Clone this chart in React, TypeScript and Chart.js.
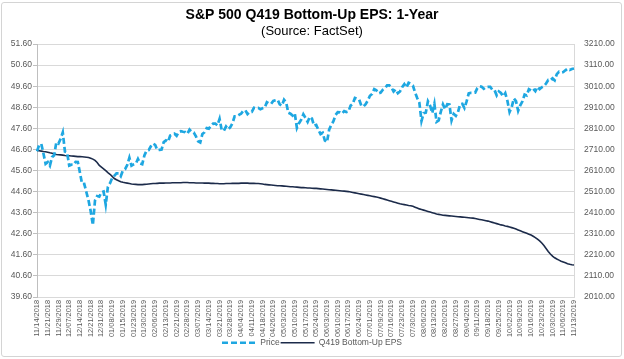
import React, { useEffect, useRef } from "react";
import { Chart, registerables } from "chart.js";

Chart.register(...registerables);

const chartTitle = "S&P 500 Q419 Bottom-Up EPS: 1-Year";
const chartSubtitle = "(Source: FactSet)";
const seriesNames = ["Price", "Q419 Bottom-Up EPS"];

// One tick label every 5 trading days
const tickLabels = [
  "11/14/2018", "11/21/2018", "11/29/2018", "12/07/2018", "12/14/2018", "12/21/2018", "12/31/2018",
  "01/08/2019", "01/15/2019", "01/23/2019", "01/30/2019",
  "02/06/2019", "02/13/2019", "02/21/2019", "02/28/2019",
  "03/07/2019", "03/14/2019", "03/21/2019", "03/28/2019",
  "04/04/2019", "04/11/2019", "04/18/2019", "04/26/2019",
  "05/03/2019", "05/10/2019", "05/17/2019", "05/24/2019",
  "06/03/2019", "06/10/2019", "06/17/2019", "06/24/2019",
  "07/01/2019", "07/09/2019", "07/16/2019", "07/23/2019", "07/30/2019",
  "08/06/2019", "08/13/2019", "08/20/2019", "08/27/2019",
  "09/04/2019", "09/11/2019", "09/18/2019", "09/25/2019",
  "10/02/2019", "10/09/2019", "10/16/2019", "10/23/2019", "10/30/2019",
  "11/06/2019", "11/13/2019",
];

// Daily S&P 500 price (right axis)
const priceValues = [
  2701.6, 2730.2, 2736.3, 2690.7, 2641.9,
  2649.9, 2632.6, 2673.5, 2682.2, 2743.8,
  2737.8, 2760.2, 2790.4, 2700.1, 2695.9,
  2633.1, 2637.7, 2636.8, 2651.1, 2650.5,
  2599.0, 2545.9, 2546.2, 2507.0, 2467.4,
  2416.6, 2351.1, 2467.7, 2488.8, 2485.7,
  2506.9, 2510.0, 2447.9, 2531.9, 2549.7,
  2574.4, 2585.0, 2596.6, 2596.3, 2582.6,
  2610.3, 2616.1, 2636.0, 2670.7, 2632.9,
  2638.7, 2642.3, 2664.8, 2643.9, 2640.0,
  2681.1, 2704.1, 2706.5, 2724.9, 2737.7,
  2731.6, 2706.1, 2707.9, 2709.8, 2744.7,
  2753.0, 2745.7, 2775.6, 2779.8, 2784.7,
  2774.9, 2792.7, 2796.1, 2793.9, 2792.4,
  2784.5, 2803.7, 2792.8, 2789.7, 2771.5,
  2748.9, 2743.1, 2783.3, 2791.5, 2810.9,
  2808.5, 2822.5, 2832.9, 2832.6, 2824.2,
  2854.9, 2800.7, 2798.4, 2818.5, 2805.4,
  2815.4, 2834.4, 2867.2, 2867.2, 2873.4,
  2879.4, 2892.7, 2895.8, 2878.2, 2888.2,
  2888.3, 2907.4, 2905.6, 2907.1, 2900.5,
  2905.0, 2908.0, 2933.7, 2927.3, 2926.2,
  2939.9, 2943.0, 2945.8, 2923.7, 2917.5,
  2945.6, 2932.5, 2884.1, 2879.4, 2870.7,
  2881.4, 2811.9, 2834.4, 2851.0, 2876.3,
  2859.5, 2840.2, 2864.4, 2856.3, 2822.2,
  2826.1, 2802.4, 2783.0, 2788.9, 2752.1,
  2744.5, 2803.3, 2826.2, 2843.5, 2873.3,
  2886.7, 2885.7, 2879.8, 2891.6, 2887.0,
  2889.7, 2917.8, 2926.5, 2954.2, 2950.5,
  2945.4, 2917.4, 2913.8, 2924.9, 2941.8,
  2964.3, 2973.0, 2995.8, 2990.4, 2976.0,
  2979.6, 2993.1, 2999.9, 3013.8, 3014.3,
  3004.0, 2984.4, 2995.1, 2976.6, 2985.0,
  3005.5, 3019.6, 3003.7, 3025.9, 3021.0,
  3013.2, 2980.4, 2953.6, 2932.1, 2844.7,
  2881.8, 2884.0, 2938.1, 2918.7, 2882.7,
  2926.3, 2840.6, 2847.6, 2888.7, 2923.7,
  2900.5, 2924.4, 2923.0, 2847.1, 2878.4,
  2869.2, 2887.9, 2924.6, 2926.5, 2906.3,
  2937.8, 2976.0, 2978.7, 2978.4, 2979.4,
  3000.9, 3009.6, 3007.4, 2998.0, 3005.7,
  3006.7, 3006.8, 2992.1, 2991.8, 2966.6,
  2984.9, 2977.6, 2961.8, 2976.7, 2940.3,
  2887.6, 2910.6, 2952.0, 2938.8, 2893.1,
  2919.4, 2938.1, 2970.3, 2966.2, 2995.7,
  2989.7, 2998.0, 2986.2, 3006.7, 2996.0,
  3004.5, 3010.3, 3022.6, 3039.4, 3036.9,
  3046.8, 3037.6, 3066.9, 3078.3, 3074.6,
  3076.8, 3085.2, 3093.1, 3087.0, 3091.8,
  3094.0,
];

// Daily Q4 2019 bottom-up EPS estimate (left axis)
const epsValues = [
  46.55, 46.54, 46.52, 46.50, 46.49,
  46.47, 46.44, 46.42, 46.38, 46.36,
  46.35, 46.34, 46.33, 46.31, 46.30,
  46.30, 46.29, 46.28, 46.27, 46.26,
  46.26, 46.25, 46.24, 46.23, 46.22,
  46.18, 46.14, 46.08, 45.98, 45.84,
  45.76, 45.68, 45.59, 45.50, 45.42,
  45.32, 45.22, 45.16, 45.11, 45.07,
  45.04, 45.02, 45.00, 44.98, 44.96,
  44.95, 44.94, 44.93, 44.93, 44.93,
  44.94, 44.95, 44.96, 44.97, 44.98,
  44.98, 44.99, 45.00, 45.00, 45.00,
  45.01, 45.01, 45.01, 45.02, 45.02,
  45.02, 45.02, 45.02, 45.03, 45.03,
  45.03, 45.02, 45.02, 45.02, 45.01,
  45.01, 45.01, 45.01, 45.00, 45.00,
  45.00, 44.99, 44.99, 44.98, 44.98,
  44.97, 44.97, 44.97, 44.98, 44.98,
  44.98, 44.99, 44.99, 44.99, 44.99,
  45.00, 45.00, 45.00, 45.00, 44.99,
  44.99, 44.99, 44.98, 44.98, 44.97,
  44.96, 44.94, 44.93, 44.92, 44.91,
  44.90, 44.89, 44.88, 44.88, 44.87,
  44.86, 44.85, 44.84, 44.83, 44.83,
  44.82, 44.81, 44.80, 44.79, 44.79,
  44.78, 44.77, 44.77, 44.76, 44.75,
  44.75, 44.74, 44.73, 44.72, 44.71,
  44.70, 44.69, 44.68, 44.67, 44.66,
  44.65, 44.64, 44.63, 44.62, 44.61,
  44.60, 44.58, 44.56, 44.54, 44.52,
  44.50, 44.48, 44.46, 44.44, 44.42,
  44.40, 44.38, 44.36, 44.34, 44.32,
  44.29, 44.26, 44.23, 44.20, 44.17,
  44.14, 44.11, 44.08, 44.05, 44.02,
  44.00, 43.98, 43.96, 43.94, 43.93,
  43.90, 43.86, 43.82, 43.78, 43.75,
  43.72, 43.69, 43.66, 43.63, 43.60,
  43.57, 43.54, 43.52, 43.50, 43.48,
  43.47, 43.46, 43.45, 43.44, 43.43,
  43.42, 43.41, 43.40, 43.39, 43.38,
  43.37, 43.36, 43.35, 43.34, 43.32,
  43.30, 43.28, 43.26, 43.24, 43.22,
  43.20, 43.17, 43.14, 43.11, 43.08,
  43.05, 43.02, 43.00, 42.97, 42.95,
  42.92, 42.89, 42.86, 42.82, 42.78,
  42.74, 42.70, 42.66, 42.62, 42.58,
  42.54, 42.48, 42.42, 42.34, 42.26,
  42.16, 42.04, 41.90, 41.76, 41.64,
  41.54, 41.46, 41.40, 41.35, 41.30,
  41.26, 41.22, 41.18, 41.15, 41.13,
  41.12,
];

const epsAxis = { min: 39.6, max: 51.6, step: 1 };
const priceAxis = { min: 2010, max: 3210, step: 100 };

const FONT = "'Liberation Sans', Arial, sans-serif";
const PRICE_COLOR = "#1EA7E1";
const EPS_COLOR = "#1C2B4A";
const TICK_COLOR = "#595959";
const GRID_COLOR = "#D9D9D9";

export default function App() {
  const canvasRef = useRef<HTMLCanvasElement | null>(null);

  useEffect(() => {
    const canvas = canvasRef.current;
    if (!canvas) return;
    const labels = priceValues.map((_, i) => (i % 5 === 0 ? tickLabels[i / 5] : ""));

    const chart = new Chart(canvas, {
      type: "line",
      data: {
        labels,
        datasets: [
          {
            label: seriesNames[0],
            data: priceValues,
            yAxisID: "y1",
            borderColor: PRICE_COLOR,
            backgroundColor: PRICE_COLOR,
            borderWidth: 2.7,
            borderDash: [6, 3],
            pointRadius: 0,
            pointStyle: "line",
            tension: 0,
          },
          {
            label: seriesNames[1],
            data: epsValues,
            yAxisID: "y",
            borderColor: EPS_COLOR,
            backgroundColor: EPS_COLOR,
            borderWidth: 1.6,
            pointRadius: 0,
            pointStyle: "line",
            tension: 0,
          },
        ],
      },
      options: {
        responsive: false,
        animation: false,
        events: [],
        layout: { padding: { left: 0, right: 0, top: 0, bottom: 2 } },
        plugins: {
          title: {
            display: true,
            text: chartTitle,
            color: "#000000",
            font: { family: FONT, size: 14, weight: "bold" },
            padding: { top: 7, bottom: 0 },
          },
          subtitle: {
            display: true,
            text: chartSubtitle,
            color: "#000000",
            font: { family: FONT, size: 13, weight: "normal" },
            padding: { top: 0, bottom: 4.6 },
          },
          legend: {
            display: true,
            position: "bottom",
            labels: {
              color: TICK_COLOR,
              font: { family: FONT, size: 8.5 },
              usePointStyle: true,
              pointStyleWidth: 34,
              boxHeight: 8,
              padding: 1,
              generateLabels: (c: any) =>
                Chart.defaults.plugins.legend.labels.generateLabels(c).map((item: any) => ({
                  ...item,
                  lineDash: (c.data.datasets[item.datasetIndex] as any).borderDash || [],
                  lineWidth: (c.data.datasets[item.datasetIndex] as any).borderWidth,
                })),
            },
          },
          tooltip: { enabled: false },
        },
        scales: {
          x: {
            type: "category",
            offset: false,
            grid: { display: false, drawTicks: false, tickLength: 0 },
            border: { display: false },
            ticks: {
              autoSkip: false,
              maxRotation: 90,
              minRotation: 90,
              padding: 3,
              color: TICK_COLOR,
              font: { family: FONT, size: 7.4 },
              callback: (_v: any, i: number) => labels[i],
            },
            afterFit: (scale: any) => {
              scale.height = 40.5;
            },
          },
          y: {
            position: "left",
            min: epsAxis.min,
            max: epsAxis.max,
            grid: { color: GRID_COLOR, tickLength: 4, tickColor: "#BFBFBF" },
            border: { display: true, color: "#BFBFBF" },
            ticks: {
              stepSize: epsAxis.step,
              padding: 1,
              color: TICK_COLOR,
              font: { family: FONT, size: 8.5 },
              callback: (v: any) => Number(v).toFixed(2),
            },
            afterFit: (scale: any) => {
              scale.width = 37;
            },
          },
          y1: {
            position: "right",
            min: priceAxis.min,
            max: priceAxis.max,
            grid: { drawOnChartArea: false, drawTicks: false },
            border: { display: true, color: GRID_COLOR },
            ticks: {
              stepSize: priceAxis.step,
              padding: 10,
              color: TICK_COLOR,
              font: { family: FONT, size: 8.5 },
              callback: (v: any) => Number(v).toFixed(2),
            },
            afterFit: (scale: any) => {
              scale.width = 50;
            },
          },
        },
      },
    });
    return () => chart.destroy();
  }, []);

  return (
    <div style={{ position: "fixed", left: 0, top: 0, width: 624, height: 359, background: "#fff" }}>
      <canvas ref={canvasRef} width={624} height={359} style={{ display: "block", width: 624, height: 359 }} />
      <div
        style={{
          position: "absolute",
          left: 1,
          top: 2,
          width: 619,
          height: 353,
          border: "1px solid #D4D4D4",
          borderRadius: 3,
          pointerEvents: "none",
        }}
      />
    </div>
  );
}
